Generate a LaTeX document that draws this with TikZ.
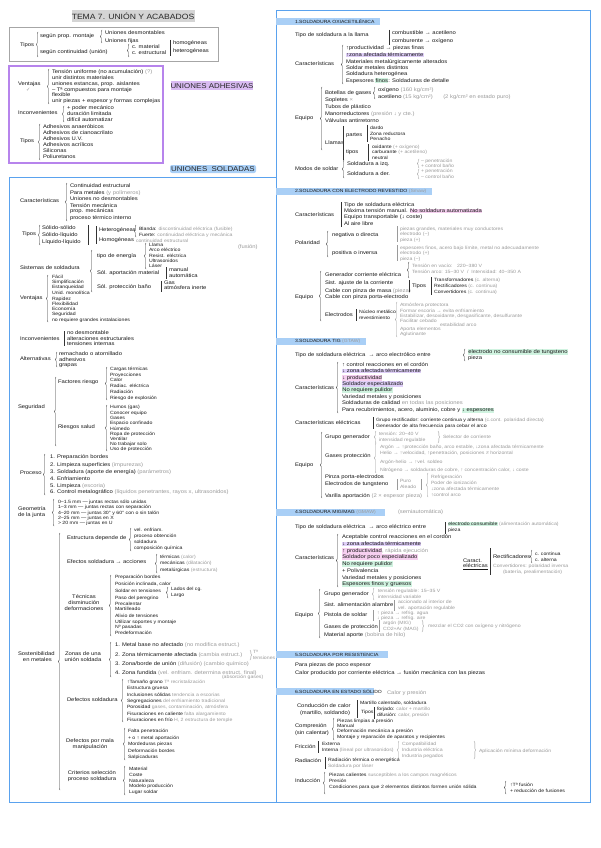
\documentclass[tikz,border=0pt]{standalone}
\usepackage{fontspec}
\setmainfont{Liberation Sans}[FakeStretch=1.13]
\newfontfamily\dejavu{DejaVu Sans}
\usetikzlibrary{decorations.pathreplacing}
\definecolor{gt}{HTML}{9A9A9A}
\definecolor{hlb}{HTML}{A9CFF6}
\definecolor{hlp}{HTML}{D9BBF2}
\definecolor{hlg}{HTML}{D4D4D4}
\definecolor{bbl}{HTML}{5AA2EE}
\definecolor{bpu}{HTML}{B784EC}
\definecolor{bgr}{HTML}{A6A6A6}
\definecolor{mkp}{HTML}{F6D0F0}
\definecolor{mkg}{HTML}{D0F3E0}
\definecolor{mkv}{HTML}{DFCFF8}
\newcounter{nd}
\newcommand\fs{\fontsize{5.2}{6}\selectfont}
\newcommand\gr[1]{\textcolor{gt}{#1}}
\newcommand\mk[2]{{\setlength{\fboxsep}{0.3pt}\colorbox{#1}{#2}}}
\tikzset{
 txt/.style={anchor=west,inner sep=0pt,outer sep=0pt,font=\fs,text=black!90},
 sm/.style={font=\fontsize{4.6}{5}\selectfont},
 ctxt/.style={txt,anchor=center,align=center},
 brc/.style={decorate,decoration={brace,amplitude=1.6pt},line width=0.4pt,draw=black!80},
 barl/.style={line width=0.4pt,draw=black!80},
 gbrc/.style={brc,draw=gt},
 gbar/.style={barl,draw=gt},
 sect/.style={txt,font=\fontsize{4.5}{5}\selectfont},
 big/.style={anchor=center,inner sep=0pt,font=\fontsize{7}{8}\selectfont,text=black!85},
}
\newcommand\T[3][]{\stepcounter{nd}\node[txt,#1] (t\arabic{nd}) at (#2) {#3};}
\newcommand\Br[3]{\draw[brc] (#1,#3) -- (#1,#2);}
\newcommand\RBr[3]{\draw[brc] (#1,#2) -- (#1,#3);}
\newcommand\GBr[3]{\draw[gbrc] (#1,#3) -- (#1,#2);}
\newcommand\GRBr[3]{\draw[gbrc] (#1,#2) -- (#1,#3);}
\newcommand\Bar[3]{\draw[barl] (#1,#2) -- (#1,#3);}
\newcommand\GBar[3]{\draw[gbar] (#1,#2) -- (#1,#3);}
\begin{document}
\begin{tikzpicture}[x=1pt,y=-1pt]
\fill[white] (0,0) rectangle (600,848);
\useasboundingbox (0,0) rectangle (600,848);
% ---------- title
\node[big,fill=hlg,minimum width=123pt,minimum height=12pt,font=\fontsize{7.6}{8}\selectfont] (title) at (133,16) {TEMA 7. UNIÓN Y ACABADOS};
% ---------- box 1
\draw[bgr,line width=0.9pt] (9,27) rectangle (218,61);
\T{20,45}{Tipos}
\Br{38}{32}{57}
\T{40,36}{según prop. montaje}
\T{40,52}{según continuidad (unión)}
\Br{102}{30}{43}
\T{105,33}{Uniones desmontables}
\T{105,41}{Uniones fijas}
\Br{129}{44}{57}
\T{132,47}{c. material}
\T{132,53}{c. estructural}
\Bar{170}{40}{56}
\T{173,43}{homogéneas}
\T{173,51}{heterogéneas}
% ---------- box 2 adhesivas
\draw[bpu,line width=1.1pt] (9,66) rectangle (163,163);
\node[big,fill=hlp,minimum width=80pt,minimum height=9pt] (uadh) at (212,86) {UNIONES ADHESIVAS};
\T{18,84}{Ventajas}
\T{26,90}{\gr{\dejavu ✓}}
\Br{49}{69}{104}
\T{52,72}{Tensión uniforme (no acumulación) \gr{(?)}}
\T{52,78}{unir distintos materiales}
\T{52,84}{uniones estancas, prop. aislantes}
\T{52,90}{– Tª compuestos para montaje}
\T{52,95}{flexible}
\T{52,101}{unir piezas + espesor y formas complejas}
\T{18,113}{Inconvenientes}
\Br{64}{106}{122}
\T{67,108}{+ poder mecánico}
\T{67,114}{duración limitada}
\T{67,120}{difícil automatizar}
\T{20,141}{Tipos}
\Br{40}{124}{160}
\T{43,127}{Adhesivos anaeróbicos}
\T{43,133}{Adhesivos de cianoacrilato}
\T{43,139}{Adhesivos U.V.}
\T{43,145}{Adhesivos acrílicos}
\T{43,151}{Siliconas}
\T{43,157}{Poliuretanos}
% ---------- box 3 soldadas
\node[big,fill=hlb,minimum width=86pt,minimum height=8pt,rounded corners=2pt] (usol) at (213,169) {UNIONES \ SOLDADAS};
\draw[bbl,line width=1pt] (9,177) rectangle (276,802);
\T{20,201}{Características}
\Br{67}{183}{221}
\T{70,186}{Continuidad estructural}
\T{70,193}{Para metales \gr{(y polímeros)}}
\T{70,199}{Uniones no desmontables}
\T{70,206}{Tensión mecánica}
\T{70,211}{prop. mecánicas}
\T{70,218}{proceso térmico interno}
\T{22,234}{Tipos}
\Br{40}{225}{245}
\T{42,228}{Sólido-sólido}
\T{42,235}{Sólido-líquido}
\T{42,242}{Líquido-líquido}
\Bar{88}{225}{245}
\Bar{96}{226}{244}
\T{99,230}{Heterogéneas}
\T{99,240}{Homogéneas}
\Br{136}{225}{237}
\T[sm]{139,229}{Blanda: \gr{discontinuidad eléctrica (fusible)}}
\T[sm]{139,235}{Fuerte: \gr{continuidad eléctrica y mecánica}}
\T[sm]{136,241}{\gr{continuidad estructural}}
\T{238,247}{\gr{(fusión)}}
\T{20,268}{Sistemas de soldadura}
\Br{92}{250}{292}
\T{97,256}{tipo de energía}
\Br{146}{243}{269}
\T[sm]{149,245}{Llama}
\T[sm]{149,250}{Arco eléctrico}
\T[sm]{149,255.5}{Resist. eléctrica}
\T[sm]{149,261}{Ultrasonidos}
\T[sm]{149,266}{Láser}
\T{97,273}{Sól. aportación material}
\Bar{166}{267}{279}
\T{169,270}{manual}
\T{169,276}{automática}
\T{97,287}{Sól. protección baño}
\Bar{161}{281}{292}
\T{164,283}{Gas}
\T{164,288}{atmósfera inerte}
\T{20,298}{Ventajas}
\Br{48}{275}{322}
\T[sm]{52,277}{Fácil}
\T[sm]{52,282}{Simplificación}
\T[sm]{52,287.5}{Estanqueidad}
\T[sm]{52,293}{Unid. monolítica}
\T[sm]{52,299}{Rapidez}
\T[sm]{52,304}{Flexibilidad}
\T[sm]{52,309}{Economía}
\T[sm]{52,314}{Seguridad}
\T[sm]{52,320}{no requiere grandes instalaciones}
\T{20,339}{Inconvenientes}
\Bar{64}{331}{346}
\T{67,333}{no desmontable}
\T{67,338.5}{alteraciones estructurales}
\T{67,344}{tensiones internas}
\T{20,359}{Alternativas}
\Br{57}{352}{367}
\T{59,354}{remachado o atornillado}
\T{59,360}{adhesivos}
\T{59,365.5}{grapas}
\T{18,407}{Seguridad}
\Br{56}{377}{446}
\T{58,382}{Factores riesgo}
\Br{107}{367}{400}
\T[sm]{110,369}{Cargas térmicas}
\T[sm]{110,375}{Proyecciones}
\T[sm]{110,380}{Calor}
\T[sm]{110,386}{Radiac. eléctrica}
\T[sm]{110,392}{Radiación}
\T[sm]{110,398}{Riesgo de explosión}
\T{58,427}{Riesgos salud}
\Br{107}{405}{451}
\T[sm]{110,407}{Humos (gas)}
\T[sm]{110,413}{Conocer equipo}
\T[sm]{110,418}{Gases}
\T[sm]{110,423.5}{Espacio confinado}
\T[sm]{110,429}{Húmedo}
\T[sm]{110,434}{Ropa de protección}
\T[sm]{110,439}{Ventilar}
\T[sm]{110,444}{No trabajar solo}
\T[sm]{110,449}{Uso de protección}
\T{20,473}{Proceso}
\Br{45}{454}{495}
\T{50,457}{1. Preparación bordes}
\T{50,465}{2. Limpieza superficies \gr{(impurezas)}}
\T{50,472}{3. Soldadura (aporte de energía) \gr{(parámetros)}}
\T{50,479}{4. Enfriamiento}
\T{50,486}{5. Limpieza \gr{(escoria)}}
\T{50,492.5}{6. Control metalográfico \gr{(líquidos penetrantes, rayos x, ultrasonidos)}}
\T{18,509}{Geometría}
\T{18,515}{de la junta}
\Br{54}{499}{526}
\T[sm]{58,502}{0–1.5 mm — juntas rectas sólo unidas}
\T[sm]{58,507.5}{1–3 mm — juntas rectas con separación}
\T[sm]{58,513}{4–20 mm — juntas 30° y 60° con o sin talón}
\T[sm]{58,518}{2–25 mm — juntas en X}
\T[sm]{58,523}{> 20 mm — juntas en U}
\T{18,654}{Sostenibilidad}
\T{23,660}{en metales}
\Br{60}{533}{790}
\T{67,538}{Estructura depende de}
\Br{131}{528}{551}
\T[sm]{134,530}{vel. enfriam.}
\T[sm]{134,536}{proceso obtención}
\T[sm]{134,542}{soldadura}
\T[sm]{134,548}{composición química}
\T{67,562}{Efectos soldadura → acciones}
\Br{157}{554}{573}
\T[sm]{160,557}{térmicas \gr{(calor)}}
\T[sm]{160,563}{mecánicas \gr{(dilatación)}}
\T[sm]{160,570}{metalúrgicas \gr{(estructura)}}
\stepcounter{nd}\node[ctxt] (tecn) at (84,603) {Técnicas\\disminución\\deformaciones};
\Br{111}{575}{636}
\T[sm]{115,577}{Preparación bordes}
\T[sm]{115,584}{Posición inclinada, calor}
\T[sm]{115,591}{Soldar en tensiones}
\Br{168}{587}{598}
\T[sm]{171,589}{Lados del cg.}
\T[sm]{171,595}{Largo}
\T[sm]{115,598}{Paso del peregrino}
\T[sm]{115,603.5}{Precalentar}
\T[sm]{115,609}{Martilleado}
\T[sm]{115,616}{Alivio de tensiones}
\T[sm]{115,622}{Utilizar soportes y montaje}
\T[sm]{115,627.5}{Nº pasadas}
\T[sm]{115,633}{Predeformación}
\stepcounter{nd}\node[ctxt] (zonas) at (83,657) {Zonas de una\\unión soldada};
\Br{111}{642}{677}
\T{115,645}{1. Metal base no afectado \gr{(no modifica estruct.)}}
\T{115,655}{2. Zona térmicamente afectada \gr{(cambia estruct.)}}
\GRBr{250}{650}{660}
\T[sm]{253,652}{\gr{Tª}}
\T[sm]{253,658}{\gr{tensiones}}
\T{115,664}{3. Zona/borde de unión \gr{(difusión) (cambio químico)}}
\T{115,673}{4. Zona fundida \gr{(vel. enfriam. determina estruct. final)}}
\T{67,700}{Defectos soldadura}
\Br{123}{679}{722}
\T[sm]{127,682}{↑Tamaño grano \gr{Tª recristalización}}
\T[sm]{222,677}{\gr{(absorción gases)}}
\T[sm]{127,688}{Estructura gruesa}
\T[sm]{127,695}{Inclusiones sólidas \gr{tendencia a escorias}}
\T[sm]{127,701}{Segregaciones \gr{del enfriamiento tradicional}}
\T[sm]{127,707}{Porosidad \gr{gases, contaminación, atmósfera}}
\T[sm]{127,714}{Fisuraciones en caliente \gr{falta alargamiento}}
\T[sm]{127,720}{Fisuraciones en frío \gr{H, 2 estructura de temple}}
\stepcounter{nd}\node[ctxt] (defm) at (90,744) {Defectos por mala\\manipulación};
\Br{125}{728}{760}
\T[sm]{128,731}{Falta penetración}
\T[sm]{128,738}{+ o ↑ metal aportación}
\T[sm]{128,744}{Mordeduras piezas}
\T[sm]{128,751}{Deformación bordes}
\T[sm]{128,757}{Salpicaduras}
\stepcounter{nd}\node[ctxt] (crit) at (92,776) {Criterios selección\\proceso soldadura};
\Br{125}{766}{795}
\T[sm]{129,769}{Material}
\T[sm]{129,775}{Coste}
\T[sm]{129,781}{Naturaleza}
\T[sm]{129,786.5}{Modelo producción}
\T[sm]{129,792}{Lugar soldar}
% ---------- right box
\draw[bbl,line width=1pt] (276,11) rectangle (590,802);
% section 1
\fill[hlb] (276,18) rectangle (380,25);
\T[sect]{295,21.5}{1.SOLDADURA OXIACETILÉNICA}
\T{295,35}{Tipo de soldadura a la llama}
\Bar{389}{30}{45}
\T{392,33}{combustible → acetileno}
\T{392,41}{comburente → oxígeno}
\T{295,64}{Características}
\Br{343}{45}{84}
\T{346,48}{↑productividad → piezas finas}
\T{346,55}{\mk{mkv}{↑zona afectada térmicamente}}
\T{346,62}{Materiales metalúrgicamente alterados}
\T{346,68}{Soldar metales distintos}
\T{346,74}{Soldadura heterogénea}
\T{346,81}{Espesores \mk{mkg}{finos}: Soldaduras de detalle}
\T{295,118}{Equipo}
\Br{322}{87}{150}
\T{325,93}{Botellas de gases}
\Br{375}{87}{99}
\T{378,90}{oxígeno \gr{(160 kg/cm²)}}
\T{378,97}{acetileno \gr{(15 kg/cm²)\qquad (2 kg/cm² en estado puro)}}
\T{325,100}{Sopletes \gr{×}}
\T{325,107}{Tubos de plástico}
\T{325,114}{Manorreductores \gr{(presión ↓ y cte.)}}
\T{325,121}{Válvulas antirretorno}
\T{325,143}{Llamas}
\Bar{343}{126}{160}
\T{346,135}{partes}
\Bar{367}{125}{142}
\T[sm]{370,128}{dardo}
\T[sm]{370,134}{Zona reductora}
\T[sm]{370,139}{Penacho}
\T{346,152}{tipos}
\Bar{368}{144}{161}
\T[sm]{372,147}{oxidante \gr{(+ oxígeno)}}
\T[sm]{372,152.5}{carburante \gr{(+ acetileno)}}
\T[sm]{372,158}{neutral}
\T{295,169}{Modos de soldar}
\Br{344}{160}{178}
\T{347,164}{Soldadura a izq.}
\T{347,174}{Soldadura a der.}
\GBr{419}{159}{168}
\T[sm]{421,161}{\gr{– penetración}}
\T[sm]{421,166}{\gr{+ control baño}}
\GBr{419}{169}{179}
\T[sm]{421,171.5}{\gr{+ penetración}}
\T[sm]{421,177}{\gr{– control baño}}
% section 2
\fill[hlb] (276,188) rectangle (432,195);
\T[sect]{295,191.5}{2.SOLDADURA CON ELECTRODO REVESTIDO \gr{(Smaw)}}
\T{295,215}{Características}
\Bar{341}{202}{227}
\T{344,205}{Tipo de soldadura eléctrica}
\T{344,211}{Máxima tensión manual. \mk{mkp}{No soldadura automatizada}}
\T{344,217}{Equipo transportable (↓ coste)}
\T{344,224}{Al aire libre}
\T{295,243}{Polaridad}
\Br{328}{231}{257}
\T{332,235}{negativa o directa}
\GBar{397}{226}{242}
\T[sm]{400,229}{\gr{piezas grandes, materiales muy conductores}}
\T[sm]{400,234.5}{\gr{electrodo (−)}}
\T[sm]{400,240}{\gr{pieza (+)}}
\T{332,253}{positiva o inversa}
\GBar{397}{245}{261}
\T[sm]{400,248}{\gr{espesores finos, acero bajo límite, metal no adecuadamente}}
\T[sm]{400,253.5}{\gr{electrodo (+)}}
\T[sm]{400,259}{\gr{pieza (−)}}
\T{295,297}{Equipo}
\Br{321}{271}{321}
\T{325,275}{Generador corriente eléctrica}
\Br{409}{262}{278}
\T[sm]{412,266}{\gr{Tensión en vacío:\quad 220–380 V}}
\T[sm]{412,272}{\gr{Tensión arco: 15–30 V\ \ /\ \ Intensidad: 40–350 A}}
\T{325,283}{Sist. ajuste de la corriente}
\T{325,291}{Cable con pinza de masa \gr{(pieza)}}
\T{325,297}{Cable con pinza porta-electrodo}
\Bar{409}{280}{292}
\T{412,286}{Tipos}
\Bar{431}{277}{295}
\T[sm]{434,280}{Transformadores \gr{(c. alterna)}}
\T[sm]{434,286}{Rectificadores \gr{(c. continua)}}
\T[sm]{434,292.5}{Convertidores \gr{(c. continua)}}
\T{325,315}{Electrodos}
\Bar{356}{309}{321}
\T[sm]{359,312}{Núcleo metálico}
\T[sm]{359,318}{revestimiento}
\GBr{397}{302}{337}
\T[sm]{400,305}{\gr{Atmósfera protectora}}
\T[sm]{400,310.5}{\gr{Formar escoria → evita enfriamiento}}
\T[sm]{400,316}{\gr{Estabilizar, desoxidante, desgasificante, desulfurante}}
\T[sm]{400,320.5}{\gr{Facilitar cebado}}
\T[sm]{440,325}{\gr{estabilidad arco}}
\T[sm]{400,329.5}{\gr{Aporta elementos}}
\T[sm]{400,334.5}{\gr{Aglutinante}}
% section 3
\fill[hlb] (276,338) rectangle (366,345);
\T[sect]{295,341.5}{3.SOLDADURA TIG \gr{(GTAW)}}
\T{295,355}{Tipo de soldadura eléctrica \ → arco electrólico entre}
\Br{465}{349}{361}
\T{468,352}{\mk{mkg}{electrodo no consumible de tungsteno}}
\T{468,358}{pieza}
\T{295,388}{Características}
\Br{338}{362}{413}
\T{342,365}{↑ control reacciones en el cordón}
\T{342,371}{\mk{mkv}{↓ zona afectada térmicamente}}
\T{342,378}{\mk{mkp}{↓ productividad}}
\T{342,384}{\mk{mkv}{Soldador especializado}}
\T{342,390}{\mk{mkg}{No requiere pulidor}}
\T{342,397}{Variedad metales y posiciones}
\T{342,403}{Soldaduras de calidad \gr{en todas las posiciones}}
\T{342,410}{Para recubrimientos, acero, aluminio, cobre y \mk{mkg}{↓ espesores}}
\T{295,423}{Características eléctricas}
\Bar{373}{417}{429}
\T[sm]{376,420}{Grupo rectificador: corriente continua y alterna \gr{(c.cont. polaridad directa)}}
\T[sm]{376,426}{Generador de alta frecuencia para cebar el arco}
\T{295,465}{Equipo}
\Br{322}{432}{498}
\T{325,437}{Grupo generador}
\GBr{376}{431}{443}
\T[sm]{379,434}{\gr{tensión: 20–40 V}}
\T[sm]{379,440}{\gr{intensidad regulable}}
\GRBr{438}{431}{443}
\T[sm]{443,437}{\gr{Selector de corriente}}
\T{325,456}{Gases protección}
\GBr{376}{443}{473}
\T[sm]{380,447}{\gr{Argón → ↑protección baño, arco estable, ↓zona afectada térmicamente}}
\T[sm]{380,453}{\gr{Helio → ↑velocidad, ↑penetración, posiciones ≠ horizontal}}
\T[sm]{380,462}{\gr{Argón-helio → ↑vel. soldeo}}
\T[sm]{380,470}{\gr{Nitrógeno → soldaduras de cobre, ↑ concentración calor, ↓ coste}}
\T{325,477}{Pinza porta-electrodos}
\T{325,484}{Electrodos de tungsteno}
\GBar{397}{479}{490}
\T[sm]{400,481}{\gr{Puro}}
\T[sm]{400,487}{\gr{Aleado}}
\GBar{421}{479}{490}
\GBr{428}{473}{497}
\T[sm]{431,477}{\gr{Refrigeración}}
\T[sm]{431,483}{\gr{Poder de ionización}}
\T[sm]{431,489}{\gr{↓zona afectada térmicamente}}
\T[sm]{431,495}{\gr{↑control arco}}
\T{325,496}{Varilla aportación \gr{(2 × espesor pieza)}}
% section 4
\fill[hlb] (276,509) rectangle (385,516);
\T[sect]{295,512.5}{4.SOLDADURA MIG/MAG \gr{(GMAW)}}
\T{398,512}{\gr{(semiautomática)}}
\T{295,527}{Tipo de soldadura eléctrica \ → arco eléctrico entre}
\Bar{445}{522}{534}
\T[sm]{448,524}{\mk{mkg}{electrodo consumible} \gr{(alimentación automática)}}
\T[sm]{448,530}{pieza}
\T{295,558}{Características}
\Br{338}{534}{587}
\T{342,537}{Aceptable control reacciones en el cordón}
\T{342,544}{\mk{mkv}{↓ zona afectada térmicamente}}
\T{342,551}{\mk{mkp}{↑ productividad}\gr{, rápida ejecución}}
\T{342,557}{\mk{mkp}{Soldador poco especializado}}
\T{342,564}{\mk{mkg}{No requiere pulidor}}
\T{342,571}{+ Polivalencia}
\T{342,578}{Variedad metales y posiciones}
\T{342,584}{\mk{mkg}{Espesores finos y gruesos}}
\T{463,561}{Caract.}
\T{463,567}{\underline{eléctricas}}
\Bar{490}{548}{575}
\T{493,557}{Rectificadores}
\Br{532}{550}{563}
\T[sm]{535,554}{c. continua}
\T[sm]{535,560}{c. alterna}
\T[sm]{493,566}{\gr{Convertidores: polaridad inversa}}
\T[sm]{503,572}{\gr{(batería, prealimentación)}}
\T{295,615}{Equipo}
\Br{320}{589}{638}
\T{324,594}{Grupo generador}
\GBr{374}{588}{600}
\T[sm]{378,591}{\gr{tensión regulable: 15–35 V}}
\T[sm]{378,597}{\gr{intensidad variable}}
\T{324,605}{Sist. alimentación alambre}
\GBar{394}{600}{611}
\T[sm]{398,602}{\gr{accionado al interior de}}
\T[sm]{398,608}{\gr{vel. aportación regulable}}
\T{324,615}{Pistola de soldar}
\GBar{373}{610}{621}
\T[sm]{377,613}{\gr{↑ pieza → refrig. agua}}
\T[sm]{377,618.5}{\gr{↓ pieza → refrig. aire}}
\T{324,627}{Gases de protección}
\GBar{379}{620}{632}
\T[sm]{383,623}{\gr{argón (MIG)}}
\T[sm]{383,629}{\gr{CO2+Ar (MAG)}}
\GRBr{422}{620}{632}
\T[sm]{428,626}{\gr{mezclar el CO2 con oxígeno y nitrógeno}}
\T{324,635}{Material aporte \gr{(bobina de hilo)}}
% section 5
\fill[hlb] (276,651) rectangle (388,658);
\T[sect]{295,654.5}{5.SOLDADURA POR RESISTENCIA}
\T{295,665}{Para piezas de poco espesor}
\T{295,673}{Calor producido por corriente eléctrica → fusión mecánica con las piezas}
% section 6
\fill[hlb] (276,688) rectangle (374,695);
\T[sect]{295,691.5}{6.SOLDADURA EN ESTADO SÓLIDO}
\T{387,693}{\gr{Calor y presión}}
\T{297,706}{Conducción de calor}
\T{300,713}{(martillo, soldando)}
\Bar{357}{700}{718}
\T[sm]{360,703}{Martillo calentado, soldadura}
\T[sm]{361,712.5}{Tipos}
\Bar{374}{707}{719}
\T[sm]{377,709.5}{forjado: \gr{calor + martillo}}
\T[sm]{377,715.5}{difusión: \gr{calor, presión}}
\T{295,726}{Compresión}
\T{295,733}{(sin calentar)}
\Br{334}{718}{740}
\T[sm]{337,721}{Piezas limpias a presión}
\T[sm]{337,726}{Manual}
\T[sm]{337,731.5}{Deformación mecánica a presión}
\T[sm]{337,737}{Montaje y reparación de aparatos y recipientes}
\T{295,747}{Fricción}
\Bar{318}{741}{753}
\T[sm]{322,744}{Externa}
\T[sm]{322,750}{Interna \gr{(lineal por ultrasonidos)}}
\GBr{399}{741}{759}
\T[sm]{402,744}{\gr{Compatibilidad}}
\T[sm]{402,750}{\gr{Industria eléctrica}}
\T[sm]{402,756}{\gr{Industria pegados}}
\GRBr{474}{741}{759}
\T[sm]{479,751}{\gr{Aplicación mínima deformación}}
\T{295,761}{Radiación}
\Bar{325}{757}{769}
\T[sm]{328,760}{Radiación térmica o energética}
\T[sm]{328,766}{\gr{Soldadura por láser}}
\T{295,781}{Inducción}
\Br{325}{772}{794}
\T[sm]{329,775}{Piezas calientes \gr{susceptibles a los campos magnéticos}}
\T[sm]{329,781}{Presión}
\T[sm]{329,787}{Condiciones para que 2 elementos distintos formen unión sólida}
\Br{506}{781}{794}
\T[sm]{510,785}{↑Tª fusión}
\T[sm]{510,791}{+ reducción de fusiones}
\end{tikzpicture}
\end{document}
